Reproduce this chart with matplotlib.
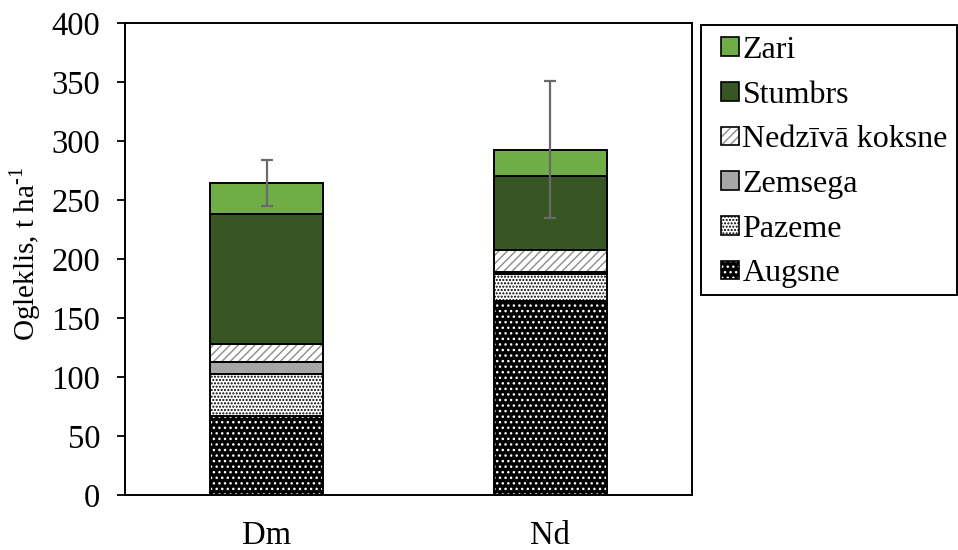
import matplotlib
matplotlib.use("Agg")
import matplotlib.pyplot as plt
import matplotlib.patches as mpatches
from matplotlib.legend_handler import HandlerTuple
import numpy as np

plt.rcParams['font.family'] = ['Liberation Serif', 'DejaVu Serif']
plt.rcParams['mathtext.fontset'] = 'custom'
plt.rcParams['mathtext.rm'] = 'Liberation Serif'
plt.rcParams['hatch.linewidth'] = 1.0

# Carbon stock per pool (t/ha), bottom to top of each stack
categories = ['Dm', 'Nd']
augsne = [67.0, 164.7]
pazeme = [35.3, 22.6]
zemsega = [10.7, 1.9]
nedziva = [15.0, 18.4]
stumbrs = [110.0, 63.0]
zari = [26.3, 22.0]
errors = [19.4, 58.0]

pool_names = ['Augsne', 'Pazeme', 'Zemsega', 'Nedzīvā koksne', 'Stumbrs', 'Zari']
pool_values = [augsne, pazeme, zemsega, nedziva, stumbrs, zari]
# face colour, hatch colour, hatch pattern
pool_styles = [
    ('black', 'white', '...'),
    ('white', 'black', '.....'),
    ('#a6a6a6', None, None),
    ('white', '#8c8c8c', '////'),
    ('#375623', None, None),
    ('#70ad47', None, None),
]

W, H = 958, 550
fig = plt.figure(figsize=(W / 100, H / 100), dpi=100)
ax = fig.add_axes([125 / W, 55 / H, 567 / W, 472 / H])

x = np.arange(len(categories))
width = 0.4
bottom = np.zeros(len(categories))
handles = []
for name, vals, (fc, hc, hatch) in zip(pool_names, pool_values, pool_styles):
    vals = np.array(vals)
    if hatch:
        ax.bar(x, vals, width, bottom=bottom, facecolor=fc, edgecolor=hc,
               hatch=hatch, linewidth=0, zorder=2)
        ax.bar(x, vals, width, bottom=bottom, fill=False, edgecolor='black',
               linewidth=1.4, zorder=3)
        h = (mpatches.Patch(facecolor=fc, edgecolor=hc, hatch=hatch, linewidth=0),
             mpatches.Patch(fill=False, edgecolor='black', linewidth=1.2))
    else:
        ax.bar(x, vals, width, bottom=bottom, color=fc, edgecolor='black',
               linewidth=1.4, zorder=3)
        h = mpatches.Patch(facecolor=fc, edgecolor='black', linewidth=1.2)
    handles.append(h)
    bottom = bottom + vals

totals = bottom
ax.errorbar(x, totals, yerr=errors, fmt='none', ecolor='#6a6a6a',
            elinewidth=1.6, capsize=4.5, capthick=1.6, zorder=4)

ax.set_xlim(-0.5, 1.5)
ax.set_ylim(0, 400)
ax.set_yticks(np.arange(0, 401, 50))
ax.set_xticks(x)
ax.set_xticklabels(categories)
ax.tick_params(axis='y', direction='out', length=6, width=1.3, pad=12,
               labelsize=23.5)
ax.tick_params(axis='x', length=0, pad=18, labelsize=23.5)
for s in ax.spines.values():
    s.set_linewidth(1.4)
    s.set_color('black')

fig.text(25 / W, 1 - 254 / H, 'Ogleklis, t ha$^{\\text{-1}}$',
         rotation=90, ha='center', va='center', fontsize=21)

# legend frame drawn as a figure rectangle, entries placed inside it
box = mpatches.Rectangle((701 / W, 1 - 295 / H), 256 / W, 270 / H,
                         transform=fig.transFigure, fill=False,
                         edgecolor='black', linewidth=1.4)
fig.patches.append(box)
leg = ax.legend(handles[::-1], pool_names[::-1],
                handler_map={tuple: HandlerTuple(ndivide=1)},
                loc='upper left', bbox_to_anchor=(721 / W, 1 - 36 / H),
                bbox_transform=fig.transFigure, borderaxespad=0,
                fontsize=23, frameon=False, borderpad=0,
                handlelength=0.55, handleheight=0.52,
                handletextpad=0.12, labelspacing=0.49)

fig.savefig('out.png', dpi=100)
